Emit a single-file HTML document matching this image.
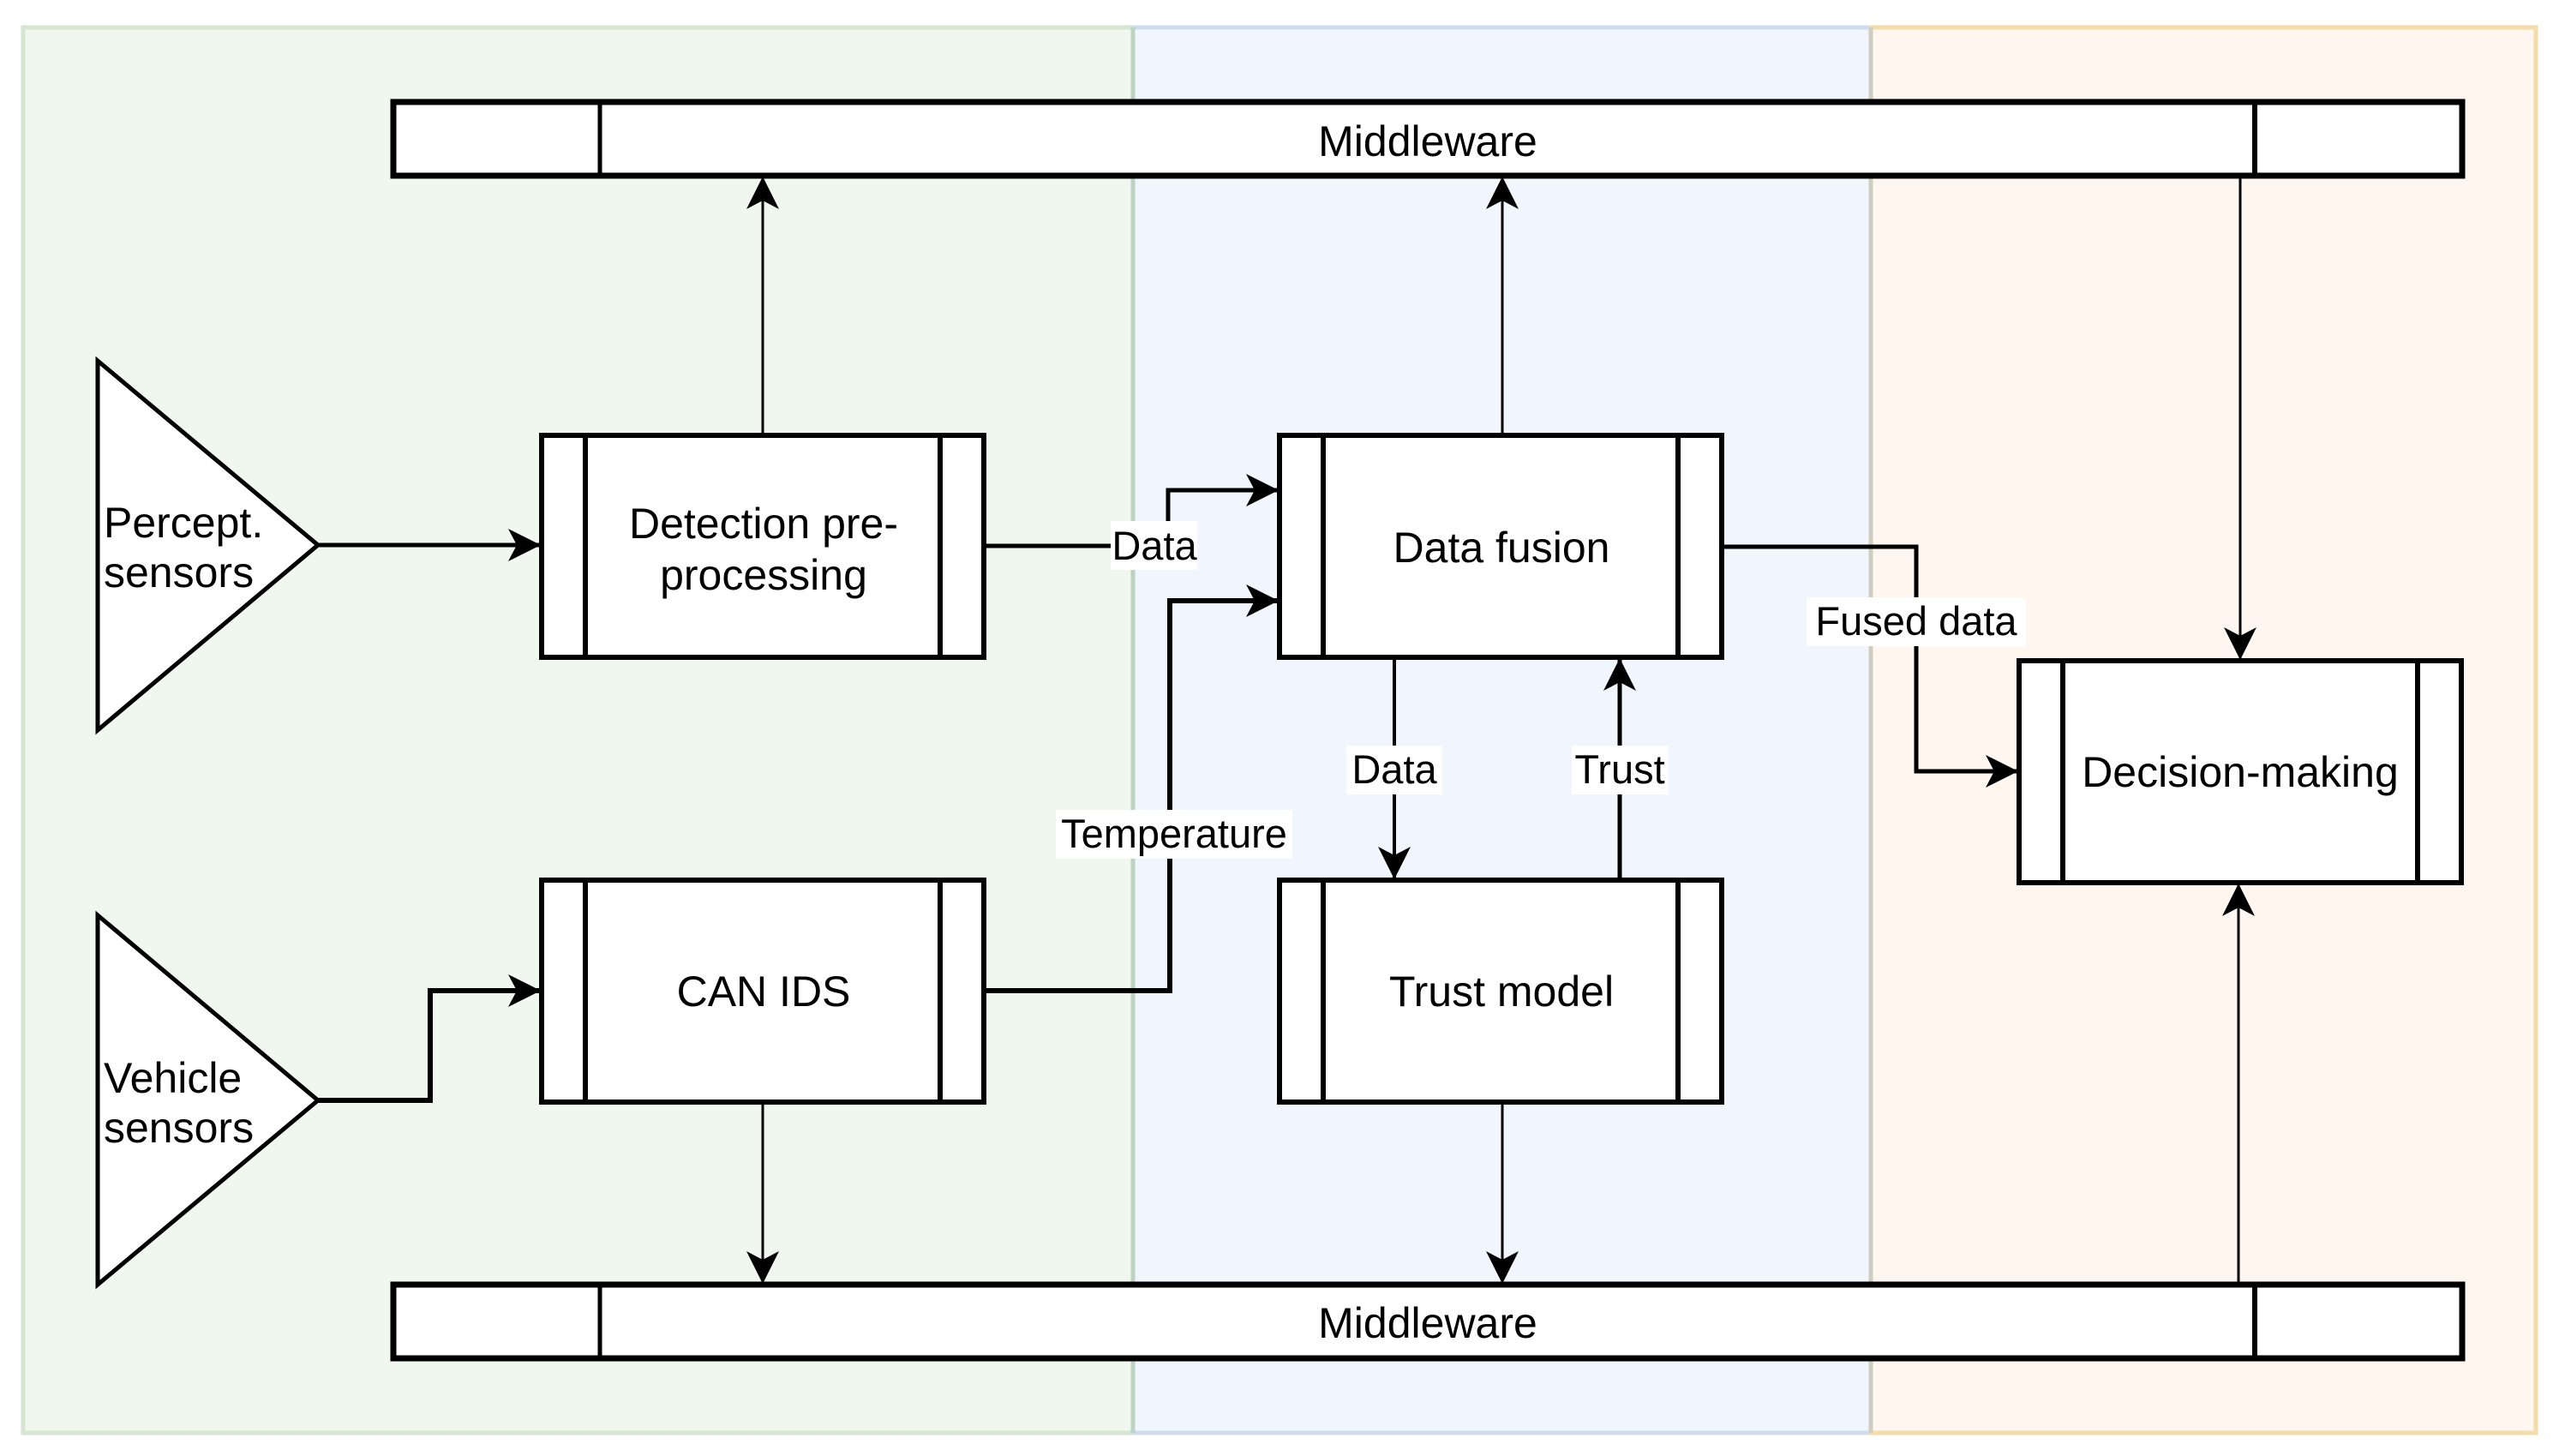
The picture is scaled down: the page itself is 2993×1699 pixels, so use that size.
<!DOCTYPE html>
<html><head><meta charset="utf-8"><style>
html,body{margin:0;padding:0;background:#fff}
svg{display:block}
text{font-family:"Liberation Sans",Arial,sans-serif;fill:#000}
</style></head><body>
<svg width="2993" height="1699" viewBox="0 0 2993 1699" xmlns="http://www.w3.org/2000/svg">
<defs>
<marker id="a" markerUnits="userSpaceOnUse" markerWidth="40" markerHeight="40" viewBox="0 0 40 40" refX="36" refY="20" orient="auto">
<path d="M0,1 L38,20 L0,39 L10,20 Z" fill="#000"/>
</marker>
</defs>
<rect x="27" y="32" width="1295" height="1640" fill="#f0f7ef" stroke="#d4e6d0" stroke-width="5"/>
<rect x="1322" y="32" width="861" height="1640" fill="#f1f5fd" stroke="#cfdbee" stroke-width="5"/>
<rect x="2183" y="32" width="776" height="1640" fill="#fef6ef" stroke="#f3dca8" stroke-width="5"/>
<line x1="1322" y1="32" x2="1322" y2="1672" stroke="#bcd3c3" stroke-width="5"/>
<line x1="2183" y1="32" x2="2183" y2="1672" stroke="#cfcdbf" stroke-width="5"/>

<g stroke="#000" fill="#fff">
<rect x="459" y="119" width="2414" height="86" stroke-width="7"/>
<line x1="700" y1="119" x2="700" y2="205" stroke-width="5"/>
<line x1="2631" y1="119" x2="2631" y2="205" stroke-width="6"/>
<rect x="459" y="1499" width="2414" height="86" stroke-width="7"/>
<line x1="700" y1="1499" x2="700" y2="1585" stroke-width="5"/>
<line x1="2631" y1="1499" x2="2631" y2="1585" stroke-width="6"/>
<polygon points="114,421 371,636 114,852" stroke-width="5"/>
<polygon points="114,1068 371,1284 114,1499" stroke-width="5"/>
<rect x="632" y="508" width="516" height="259" stroke-width="6"/>
<line x1="683" y1="508" x2="683" y2="767" stroke-width="6"/>
<line x1="1097" y1="508" x2="1097" y2="767" stroke-width="6"/>
<rect x="632" y="1027" width="516" height="259" stroke-width="6"/>
<line x1="683" y1="1027" x2="683" y2="1286" stroke-width="6"/>
<line x1="1097" y1="1027" x2="1097" y2="1286" stroke-width="6"/>
<rect x="1493" y="508" width="516" height="259" stroke-width="6"/>
<line x1="1544" y1="508" x2="1544" y2="767" stroke-width="6"/>
<line x1="1958" y1="508" x2="1958" y2="767" stroke-width="6"/>
<rect x="1493" y="1027" width="516" height="259" stroke-width="6"/>
<line x1="1544" y1="1027" x2="1544" y2="1286" stroke-width="6"/>
<line x1="1958" y1="1027" x2="1958" y2="1286" stroke-width="6"/>
<rect x="2356" y="771" width="516" height="259" stroke-width="6"/>
<line x1="2407" y1="771" x2="2407" y2="1030" stroke-width="6"/>
<line x1="2821" y1="771" x2="2821" y2="1030" stroke-width="6"/>
</g>

<g stroke="#000" fill="none">
<line x1="890" y1="505" x2="890" y2="208" stroke-width="3" marker-end="url(#a)"/>
<line x1="1753" y1="505" x2="1753" y2="208" stroke-width="3" marker-end="url(#a)"/>
<line x1="2614" y1="208" x2="2614" y2="768" stroke-width="3" marker-end="url(#a)"/>
<line x1="890" y1="1289" x2="890" y2="1496" stroke-width="3" marker-end="url(#a)"/>
<line x1="1753" y1="1289" x2="1753" y2="1496" stroke-width="3" marker-end="url(#a)"/>
<line x1="2612" y1="1496" x2="2612" y2="1033" stroke-width="3" marker-end="url(#a)"/>
<line x1="371" y1="636" x2="629" y2="636" stroke-width="5" marker-end="url(#a)"/>
<polyline points="371,1284 502,1284 502,1156 629,1156" stroke-width="6" marker-end="url(#a)"/>
<polyline points="1148,637 1363,637 1363,572 1490,572" stroke-width="5" marker-end="url(#a)"/>
<polyline points="1148,1156 1365,1156 1365,701 1490,701" stroke-width="6" marker-end="url(#a)"/>
<polyline points="2009,638 2236,638 2236,900 2353,900" stroke-width="5" marker-end="url(#a)"/>
<line x1="1627" y1="767" x2="1627" y2="1024" stroke-width="4" marker-end="url(#a)"/>
<line x1="1890" y1="1027" x2="1890" y2="770" stroke-width="5" marker-end="url(#a)"/>
</g>

<g fill="#fff">
<rect x="1296" y="608" width="101" height="57"/>
<rect x="1232" y="945" width="276" height="57"/>
<rect x="1571" y="870" width="112" height="57"/>
<rect x="1834" y="870" width="113" height="57"/>
<rect x="2108" y="697" width="256" height="57"/>
</g>

<g font-size="50" text-anchor="middle">
<text x="1666" y="182">Middleware</text>
<text x="1666" y="1561">Middleware</text>
<text x="891" y="628">Detection pre-</text>
<text x="891" y="688">processing</text>
<text x="891" y="1174">CAN IDS</text>
<text x="1752" y="656">Data fusion</text>
<text x="1752" y="1174">Trust model</text>
<text x="2614" y="918">Decision-making</text>
</g>
<g font-size="50">
<text x="121" y="627">Percept.</text>
<text x="121" y="685">sensors</text>
<text x="121" y="1275">Vehicle</text>
<text x="121" y="1333">sensors</text>
</g>
<g font-size="47" text-anchor="middle">
<text x="1347" y="653">Data</text>
<text x="1370" y="989">Temperature</text>
<text x="1627" y="914">Data</text>
<text x="1890" y="914">Trust</text>
<text x="2236" y="741">Fused data</text>
</g>
</svg>
</body></html>
